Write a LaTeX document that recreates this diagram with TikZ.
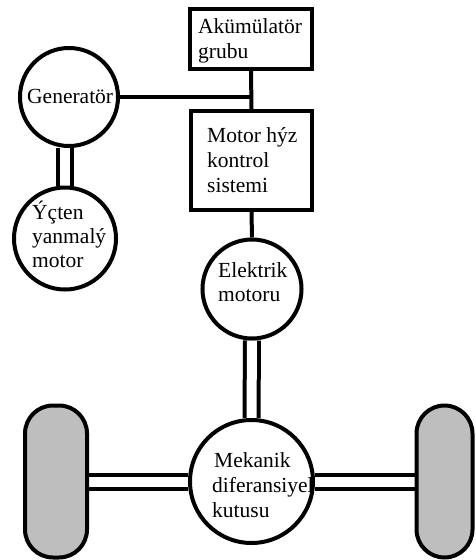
\documentclass[tikz,border=0pt]{standalone}
\usepackage{fontspec}
\setmainfont{Liberation Serif}
\usetikzlibrary{backgrounds}
\definecolor{wheelgray}{RGB}{190,190,190}
\begin{document}
\begin{tikzpicture}[x=1pt,y=-1pt,
  ln/.style={line width=4pt},
  shaft/.style={line width=4pt,double=white,double distance=10pt},
  boxn/.style={draw,line width=4pt,rectangle,inner sep=0pt,fill=white},
  circn/.style={draw,line width=4pt,circle,inner sep=0pt,fill=white},
  wheeln/.style={draw,line width=4pt,rectangle,rounded corners=28pt,inner sep=0pt,fill=wheelgray},
  lbl/.style={inner sep=0pt,anchor=base west,font=\fontsize{21.5}{25}\selectfont}]
\useasboundingbox (0,0) rectangle (476,560);
% shapes
\node[boxn,minimum width=122pt,minimum height=60pt] (akku) at (251,39) {};
\node[boxn,minimum width=121pt,minimum height=99pt] (mbox) at (251.5,160.5) {};
\node[circn,minimum size=98pt] (gen) at (69,97) {};
\node[circn,minimum size=102pt] (ice) at (65,238.5) {};
\node[circn,minimum size=99pt] (em) at (252,289) {};
\node[circn,minimum size=123pt] (diff) at (251.5,481.5) {};
\node[wheeln,minimum width=62pt,minimum height=152pt] (lw) at (56,481.5) {};
\node[wheeln,minimum width=56pt,minimum height=152pt] (rw) at (444.5,481.5) {};
% connectors
\draw[ln] (akku.south) -- (mbox.north);
\draw[ln] (gen.east) -- (gen.east -| akku.south);
\draw[ln] (mbox.south) -- (em.north);
\begin{scope}[on background layer]
\draw[shaft] (ice.north |- gen.south) -- (ice.north);
\draw[shaft] (em.south) -- (diff.north);
\draw[shaft] (lw.east) -- (diff.west);
\draw[shaft] (diff.east) -- (rw.west);
\end{scope}
% labels
\node[lbl] (t1) at (198,33) {Akümülatör};
\node[lbl] (t2) at (198,58) {grubu};
\node[lbl] (t3) at (27,103) {Generatör};
\node[lbl] (t4) at (207,142) {Motor hýz};
\node[lbl] (t5) at (207,167) {kontrol};
\node[lbl] (t6) at (207,192) {sistemi};
\node[lbl] (t7) at (32,219) {Ýçten};
\node[lbl] (t8) at (32,243) {yanmalý};
\node[lbl] (t9) at (32,267) {motor};
\node[lbl] (t10) at (218,277) {Elektrik};
\node[lbl] (t11) at (218,301) {motoru};
\node[lbl] (t12) at (214,467) {Mekanik};
\node[lbl] (t13) at (212,492) {diferansiyel};
\node[lbl] (t14) at (212,517) {kutusu};
\end{tikzpicture}
\end{document}
